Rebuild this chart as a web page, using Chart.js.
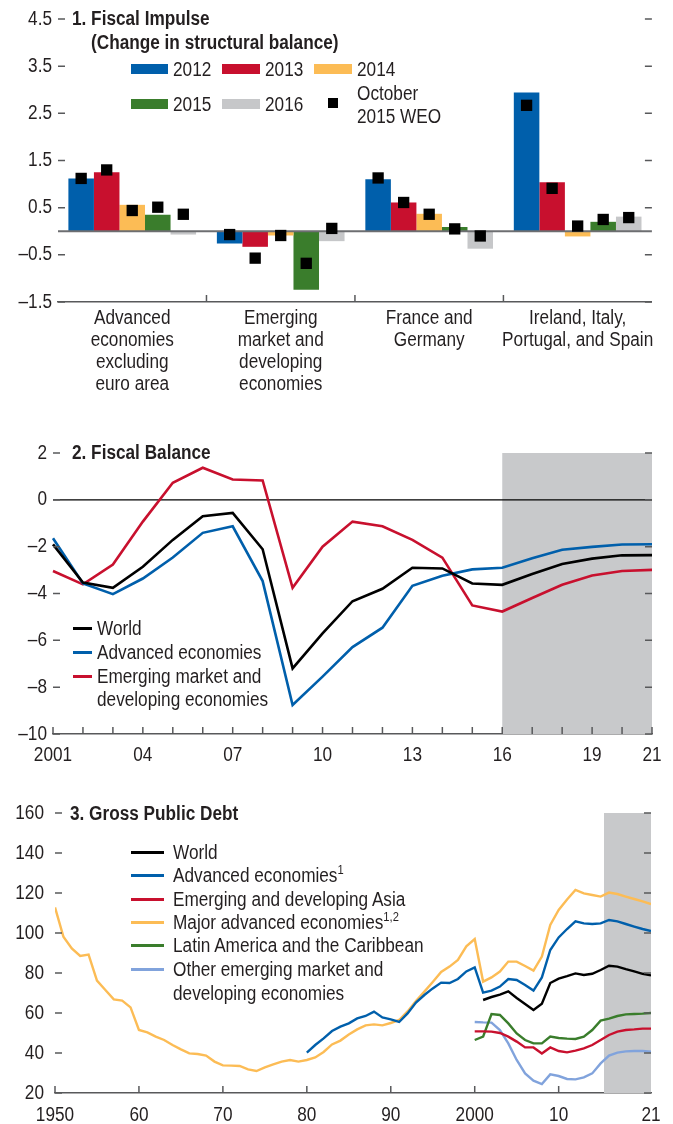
<!DOCTYPE html>
<html>
<head>
<meta charset="utf-8">
<script src="https://cdn.jsdelivr.net/npm/chart.js@4.4.1/dist/chart.umd.min.js"></script>
<style>
  body { margin: 0; background: #fff; }
  #wrap { position: relative; width: 673px; height: 1124px; overflow: hidden;
          font-family: "Liberation Sans", Arial, sans-serif; font-size: 20px; color: #231f20; }
  canvas { position: absolute; left: 0; }
  .t { position: absolute; white-space: nowrap; line-height: 24px; transform: scaleX(0.86); transform-origin: 0 0; }
  .b { font-weight: bold; }
  .sw { position: absolute; height: 10px; }
  .ln { position: absolute; height: 3px; }
  .sup { font-size: 13px; position: relative; top: -8px; }
</style>
</head>
<body>
<div id="wrap">
  <canvas id="c1" width="673" height="410" style="top:0"></canvas>
  <canvas id="c2" width="673" height="350" style="top:420px"></canvas>
  <canvas id="c3" width="673" height="344" style="top:780px"></canvas>

  <!-- panel 1 title + legend -->
  <div class="t b" style="left:72px;top:6px">1. Fiscal Impulse</div>
  <div class="t b" style="left:91px;top:30px">(Change in structural balance)</div>
  <div class="sw" style="left:131px;top:64px;width:37px;background:#005fab"></div>
  <div class="t" style="left:173px;top:57px">2012</div>
  <div class="sw" style="left:222px;top:64px;width:38px;background:#c8102e"></div>
  <div class="t" style="left:265px;top:57px">2013</div>
  <div class="sw" style="left:314px;top:64px;width:38px;background:#fcbc55"></div>
  <div class="t" style="left:357px;top:57px">2014</div>
  <div class="sw" style="left:131px;top:99px;width:37px;background:#3a7d2c"></div>
  <div class="t" style="left:173px;top:92px">2015</div>
  <div class="sw" style="left:222px;top:99px;width:38px;background:#c6c7c9"></div>
  <div class="t" style="left:265px;top:92px">2016</div>
  <div class="sw" style="left:328px;top:98px;width:10px;background:#000"></div>
  <div class="t" style="left:357px;top:81px">October</div>
  <div class="t" style="left:357px;top:104px">2015 WEO</div>

  <!-- panel 2 title + legend -->
  <div class="t b" style="left:72px;top:440px">2. Fiscal Balance</div>
  <div class="ln" style="left:73px;top:627px;width:19px;background:#000"></div>
  <div class="t" style="left:97px;top:616px">World</div>
  <div class="ln" style="left:73px;top:651px;width:19px;background:#005fab"></div>
  <div class="t" style="left:97px;top:640px">Advanced economies</div>
  <div class="ln" style="left:73px;top:675px;width:19px;background:#c8102e"></div>
  <div class="t" style="left:97px;top:664px">Emerging market and</div>
  <div class="t" style="left:97px;top:687px">developing economies</div>

  <!-- panel 3 title + legend -->
  <div class="t b" style="left:70px;top:801px">3. Gross Public Debt</div>
  <div class="ln" style="left:131px;top:851px;width:33px;background:#000"></div>
  <div class="t" style="left:173px;top:840px">World</div>
  <div class="ln" style="left:131px;top:874px;width:33px;background:#005fab"></div>
  <div class="t" style="left:173px;top:863px">Advanced economies<span class="sup">1</span></div>
  <div class="ln" style="left:131px;top:898px;width:33px;background:#c8102e"></div>
  <div class="t" style="left:173px;top:887px">Emerging and developing Asia</div>
  <div class="ln" style="left:131px;top:921px;width:33px;background:#fcbc55"></div>
  <div class="t" style="left:173px;top:910px">Major advanced economies<span class="sup">1,2</span></div>
  <div class="ln" style="left:131px;top:944px;width:33px;background:#3a7d2c"></div>
  <div class="t" style="left:173px;top:933px">Latin America and the Caribbean</div>
  <div class="ln" style="left:131px;top:968px;width:33px;background:#81a3dc"></div>
  <div class="t" style="left:173px;top:957px">Other emerging market and</div>
  <div class="t" style="left:173px;top:981px">developing economies</div>
</div>

<script>
// ---- panel 1: fiscal impulse ----
const fiCategories = [
  ['Advanced', 'economies', 'excluding', 'euro area'],
  ['Emerging', 'market and', 'developing', 'economies'],
  ['France and', 'Germany'],
  ['Ireland, Italy,', 'Portugal, and Spain']
];
const fiYears = ['2012', '2013', '2014', '2015', '2016'];
const fi2012 = [1.12, -0.26, 1.10, 2.94];
const fi2013 = [1.25, -0.33, 0.61, 1.04];
const fi2014 = [0.56, -0.09, 0.37, -0.11];
const fi2015 = [0.35, -1.24, 0.09, 0.20];
const fi2016 = [-0.07, -0.21, -0.37, 0.31];
// October 2015 WEO markers
const weo2012 = [1.12, -0.07, 1.13, 2.67];
const weo2013 = [1.30, -0.57, 0.61, 0.91];
const weo2014 = [0.44, -0.09, 0.36, 0.11];
const weo2015 = [0.51, -0.68, 0.05, 0.25];
const weo2016 = [0.36, 0.06, -0.10, 0.29];

// ---- panel 2: fiscal balance ----
const fbYears = [2001, 2002, 2003, 2004, 2005, 2006, 2007, 2008, 2009, 2010, 2011,
                 2012, 2013, 2014, 2015, 2016, 2017, 2018, 2019, 2020, 2021];
const fbWorld = [-1.9, -3.53, -3.76, -2.86, -1.71, -0.7, -0.56, -2.11, -7.2, -5.7, -4.33,
                 -3.8, -2.9, -2.93, -3.57, -3.63, -3.17, -2.74, -2.51, -2.37, -2.36];
const fbAdv = [-1.64, -3.57, -4.03, -3.36, -2.46, -1.41, -1.13, -3.47, -8.76, -7.55, -6.29,
               -5.46, -3.67, -3.24, -2.97, -2.9, -2.49, -2.13, -2.01, -1.91, -1.9];
const fbEm = [-3.04, -3.61, -2.76, -0.93, 0.73, 1.37, 0.87, 0.83, -3.76, -2.0, -0.93,
              -1.13, -1.71, -2.47, -4.51, -4.77, -4.19, -3.63, -3.23, -3.04, -2.99];
const fbTickLabels = {2001: '2001', 2004: '04', 2007: '07', 2010: '10', 2013: '13', 2016: '16', 2019: '19', 2021: '21'};
const fbProjFrom = 2016;

// ---- panel 3: gross public debt ----
const gpdMajorStart = 1950;
const gpdMajor = [112.8, 98.2, 92.3, 88.5, 89.2, 76.2, 71.5, 66.8, 66.2, 62.8,
                  51.5, 50.3, 48.2, 46.5, 44, 41.8, 39.8, 39.5, 38.7, 35.7,
                  33.8, 33.7, 33.5, 31.8, 31, 32.8, 34.3, 35.7, 36.5, 35.7,
                  36.5, 37.8, 40.5, 44.3, 46.2, 49.2, 51.8, 53.8, 54.3, 53.8,
                  55, 56.5, 60.8, 66, 70.7, 75.5, 80.5, 83.2, 86.5, 93.3,
                  97, 75.7, 77.8, 80.7, 85.7, 85.7, 83.5, 81.2, 88.2, 104,
                  111.5, 116.8, 121.5, 119.8, 119, 118.2, 120.2, 119.5, 118.2, 117, 115.8, 114.5];
const gpdAdvStart = 1980;
const gpdAdv = [40.2, 44, 47.3, 51, 53.2, 54.8, 57.3, 58.5, 60.7, 57.8,
                56.8, 55.5, 59.8, 65.2, 69, 72.3, 75.2, 75, 77, 80.8,
                82.8, 70.2, 71.2, 73.2, 77, 76.5, 74, 71.2, 77.8, 91.5,
                97.8, 102, 105.8, 104.8, 104.5, 104.8, 106.5, 105.8, 104.5, 103.2, 102, 101];
const gpdWorldStart = 2001;
const gpdWorld = [66.5, 68, 69.2, 70.8, 67.5, 64.5, 61.5, 64.6, 75, 77.2,
                  78.4, 79.8, 79, 79.6, 81.5, 83.6, 83.2, 81.9, 80.8, 79.6, 78.8];
const gpdAsiaStart = 2000;
const gpdAsia = [50.8, 50.8, 50.7, 50, 48.2, 45.7, 42.8, 42.8, 39.8, 42.8,
                 41, 40.3, 41.2, 42.3, 44, 46.5, 49, 50.7, 51.5, 51.8, 52.2, 52.2];
const gpdLatamStart = 2000;
const gpdLatam = [46.5, 48.2, 59.5, 59, 54.8, 49.8, 46.5, 44.8, 44.8, 48.2,
                  47.5, 47.2, 47, 48.2, 51.5, 56.2, 57.2, 58.5, 59.3, 59.5, 59.7, 60];
const gpdOtherStart = 2000;
const gpdOther = [55.5, 55.3, 55.2, 51.5, 44.8, 36.5, 29.8, 26.2, 24.5, 29.3,
                  28.5, 27, 26.8, 27.8, 29.8, 34.8, 38.7, 40.2, 40.8, 41, 41, 40.7];
const gpdXTicks = [1950, 1960, 1970, 1980, 1990, 2000, 2010, 2021];
const gpdXLabels = {1950: '1950', 1960: '60', 1970: '70', 1980: '80', 1990: '90', 2000: '2000', 2010: '10', 2021: '21'};
const gpdProjFrom = 2015.4;

// ---- styling ----
const INK = '#231f20';
const AXIS = '#58595b';
const SHADE = '#c8c9cb';
const BLUE = '#005fab', RED = '#c8102e', YELLOW = '#fcbc55', GREEN = '#3a7d2c', GRAY = '#c6c7c9', LIGHTBLUE = '#81a3dc';
const BAR_CAT = 0.86;
const TEXT_SQUEEZE = 0.86; // no condensed face installed, so narrow the glyphs

Chart.defaults.font.family = '"Liberation Sans", Arial, sans-serif';
Chart.defaults.font.size = 20;
Chart.defaults.color = INK;
Chart.defaults.animation = false;
Chart.defaults.responsive = false;
Chart.defaults.plugins.legend.display = false;
Chart.defaults.plugins.tooltip.enabled = false;

Chart.register({
  id: 'squeeze',
  beforeDraw(chart) {
    const ctx = chart.ctx;
    if (ctx.squeezed) return;
    const fillText = ctx.fillText;
    ctx.fillText = function (text, x, y, maxWidth) {
      this.save();
      this.translate(x, y);
      this.scale(TEXT_SQUEEZE, 1);
      if (maxWidth === undefined) fillText.call(this, text, 0, 0);
      else fillText.call(this, text, 0, 0, maxWidth / TEXT_SQUEEZE);
      this.restore();
    };
    ctx.squeezed = true;
  }
});

const fmt = (v, d) => (v < 0 ? '\u2013' : '') + Math.abs(v).toFixed(d);

function drawYTicks(chart, isMajor) {
  const {ctx, chartArea: a, scales: {y}} = chart;
  ctx.save();
  ctx.strokeStyle = AXIS;
  ctx.lineWidth = 1.5;
  y.ticks.forEach(t => {
    const py = y.getPixelForValue(t.value);
    const len = isMajor(t.value) ? 7 : 3;
    ctx.beginPath();
    ctx.moveTo(a.left, py); ctx.lineTo(a.left + len, py);
    ctx.moveTo(a.right - len, py); ctx.lineTo(a.right, py);
    ctx.stroke();
  });
  ctx.restore();
}

function drawXTicks(chart, pixels) {
  const {ctx, chartArea: a} = chart;
  ctx.save();
  ctx.strokeStyle = AXIS;
  ctx.lineWidth = 1.5;
  pixels.forEach(px => {
    ctx.beginPath();
    ctx.moveTo(px, a.bottom); ctx.lineTo(px, a.bottom - 7);
    ctx.stroke();
  });
  ctx.restore();
}

function hLine(chart, value, color, width) {
  const {ctx, chartArea: a, scales: {y}} = chart;
  const py = y.getPixelForValue(value);
  ctx.save();
  ctx.strokeStyle = color;
  ctx.lineWidth = width;
  ctx.beginPath();
  ctx.moveTo(a.left, py); ctx.lineTo(a.right, py);
  ctx.stroke();
  ctx.restore();
}

function shadeFrom(chart, px) {
  const {ctx, chartArea: a} = chart;
  ctx.save();
  ctx.fillStyle = SHADE;
  ctx.fillRect(px, a.top, a.right - px, a.bottom - a.top);
  ctx.restore();
}

// ---- chart 1 ----
const fiSeries = [fi2012, fi2013, fi2014, fi2015, fi2016];
const weoSeries = [weo2012, weo2013, weo2014, weo2015, weo2016];
const fiColors = [BLUE, RED, YELLOW, GREEN, GRAY];
const nYears = fiYears.length;
const weoPoints = [];
weoSeries.forEach((s, j) => s.forEach((v, i) => {
  weoPoints.push({x: i + (j - (nYears - 1) / 2) * BAR_CAT / nYears, y: v});
}));
const fiMajor = v => Math.abs(Math.abs(v) % 1 - 0.5) < 1e-6;

new Chart(document.getElementById('c1'), {
  type: 'bar',
  data: {
    datasets: [
      ...fiYears.map((yr, j) => ({
        label: yr,
        data: fiSeries[j].map((v, i) => ({x: i, y: v})),
        backgroundColor: fiColors[j], borderWidth: 0, order: 1
      })),
      {
        type: 'line', label: 'October 2015 WEO', data: weoPoints, showLine: false,
        pointStyle: 'rect', pointRadius: 8, pointBackgroundColor: '#000',
        pointBorderWidth: 0, order: 0
      }
    ]
  },
  options: {
    layout: {padding: {top: 19, right: 20, left: 0, bottom: 0}},
    datasets: {bar: {categoryPercentage: BAR_CAT, barPercentage: 1}},
    scales: {
      x: {
        type: 'linear', offset: false, min: -0.5, max: fiCategories.length - 0.5,
        grid: {display: false, drawTicks: false, offset: false},
        border: {display: true, color: AXIS, width: 1.5},
        afterBuildTicks: s => { s.ticks = fiCategories.map((c, i) => ({value: i})); },
        ticks: {padding: 5, maxRotation: 0, autoSkip: false, font: {size: 20, lineHeight: 1.1},
                callback: v => fiCategories[v]},
        afterFit: s => { s.height = 108; }
      },
      y: {
        min: -1.5, max: 4.5,
        grid: {display: false, drawTicks: false},
        border: {display: false},
        ticks: {stepSize: 0.5, padding: 6, callback: v => fiMajor(v) ? fmt(v, 1) : ''},
        afterFit: s => { s.width = 58; }
      }
    }
  },
  plugins: [{
    id: 'fiMarks',
    beforeDatasetDraw(chart, args) {
      if (args.index === nYears) hLine(chart, 0, '#6d6e71', 2);
    },
    afterDraw(chart) {
      drawYTicks(chart, fiMajor);
      const x = chart.scales.x;
      const seps = [];
      for (let i = 0; i < fiCategories.length - 1; i++) seps.push(x.getPixelForValue(i + 0.5));
      drawXTicks(chart, seps);
    }
  }]
});

// ---- chart 2 ----
new Chart(document.getElementById('c2'), {
  type: 'line',
  data: {
    labels: fbYears,
    datasets: [
      {label: 'World', data: fbWorld, borderColor: '#000'},
      {label: 'Advanced economies', data: fbAdv, borderColor: BLUE},
      {label: 'Emerging market and developing economies', data: fbEm, borderColor: RED}
    ]
  },
  options: {
    elements: {line: {borderWidth: 2.6, tension: 0}, point: {radius: 0}},
    layout: {padding: {top: 33, right: 21, left: 0, bottom: 0}},
    scales: {
      x: {
        type: 'category', offset: false,
        grid: {display: false, drawTicks: false},
        border: {display: true, color: AXIS, width: 1.5},
        ticks: {
          autoSkip: false, maxRotation: 0, padding: 9,
          callback(v) { return fbTickLabels[this.getLabelForValue(v)] || ''; }
        },
        afterFit: s => { s.height = 36; }
      },
      y: {
        min: -10, max: 2,
        grid: {display: false, drawTicks: false},
        border: {display: false},
        ticks: {stepSize: 1, padding: 6, callback: v => (v % 2 === 0 ? fmt(v, 0) : '')},
        afterFit: s => { s.width = 53; }
      }
    }
  },
  plugins: [{
    id: 'fbMarks',
    beforeDatasetsDraw(chart) {
      const x = chart.scales.x;
      shadeFrom(chart, x.getPixelForValue(fbYears.indexOf(fbProjFrom)));
      hLine(chart, 0, '#000', 1.2);
    },
    afterDraw(chart) {
      drawYTicks(chart, v => v % 2 === 0);
      const x = chart.scales.x;
      drawXTicks(chart, fbYears.map((yr, i) => x.getPixelForValue(i)));
    }
  }]
});

// ---- chart 3 ----
const toXY = (start, vals) => vals.map((v, i) => ({x: start + i, y: v}));

new Chart(document.getElementById('c3'), {
  type: 'line',
  data: {
    datasets: [
      {label: 'World', data: toXY(gpdWorldStart, gpdWorld), borderColor: '#000'},
      {label: 'Advanced economies', data: toXY(gpdAdvStart, gpdAdv), borderColor: BLUE},
      {label: 'Emerging and developing Asia', data: toXY(gpdAsiaStart, gpdAsia), borderColor: RED},
      {label: 'Major advanced economies', data: toXY(gpdMajorStart, gpdMajor), borderColor: YELLOW},
      {label: 'Latin America and the Caribbean', data: toXY(gpdLatamStart, gpdLatam), borderColor: GREEN},
      {label: 'Other emerging market and developing economies', data: toXY(gpdOtherStart, gpdOther), borderColor: LIGHTBLUE}
    ]
  },
  options: {
    elements: {line: {borderWidth: 2.4, tension: 0}, point: {radius: 0}},
    layout: {padding: {top: 33, right: 22, left: 0, bottom: 0}},
    scales: {
      x: {
        type: 'linear', min: 1950, max: 2021,
        grid: {display: false, drawTicks: false},
        border: {display: true, color: AXIS, width: 1.5},
        afterBuildTicks: s => { s.ticks = gpdXTicks.map(v => ({value: v})); },
        ticks: {maxRotation: 0, autoSkip: false, padding: 10, callback: v => gpdXLabels[v] || ''},
        afterFit: s => { s.height = 31; }
      },
      y: {
        min: 20, max: 160,
        grid: {display: false, drawTicks: false},
        border: {display: false},
        ticks: {stepSize: 10, padding: 11, callback: v => (v % 20 === 0 ? String(v) : '')},
        afterFit: s => { s.width = 55; }
      }
    }
  },
  plugins: [{
    id: 'gpdMarks',
    beforeDatasetsDraw(chart) {
      shadeFrom(chart, chart.scales.x.getPixelForValue(gpdProjFrom));
    },
    afterDraw(chart) {
      drawYTicks(chart, v => v % 20 === 0);
      const x = chart.scales.x;
      drawXTicks(chart, gpdXTicks.filter(v => v % 10 === 0).map(v => x.getPixelForValue(v)));
    }
  }]
});
</script>
</body>
</html>
